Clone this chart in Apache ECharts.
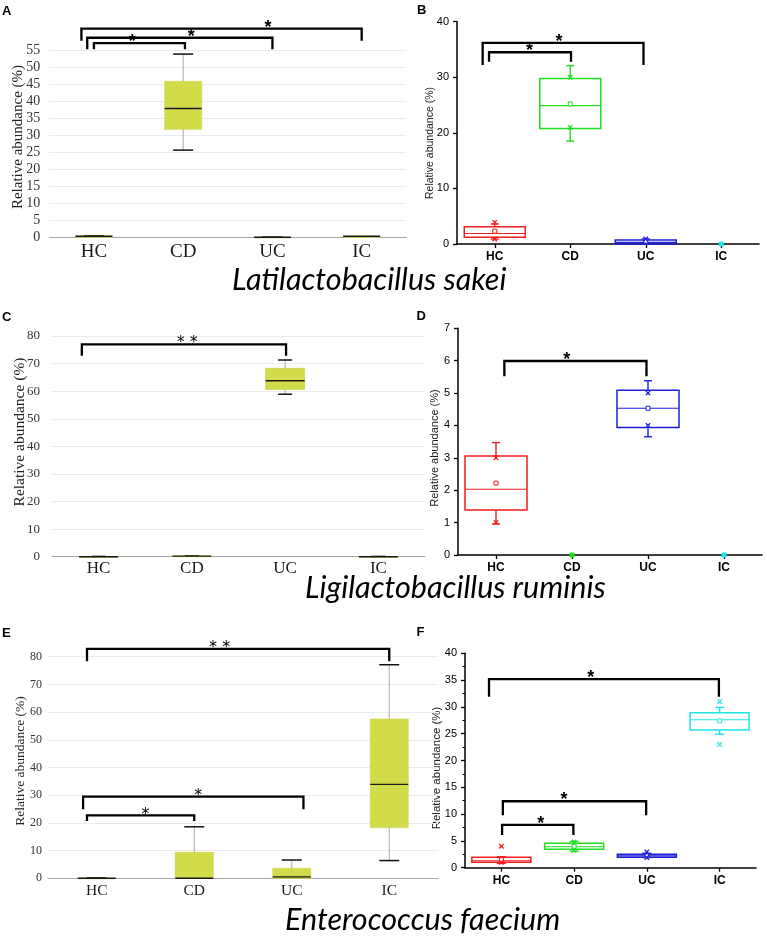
<!DOCTYPE html>
<html><head><meta charset="utf-8">
<script src="https://cdn.jsdelivr.net/npm/echarts@6/dist/echarts.min.js"></script>
<style>html,body{margin:0;padding:0;background:#fff}#c{width:767px;height:940px}</style>
</head><body><div id="c"></div>
<script>
const categories = ['HC','CD','UC','IC'];
// box statistics: [min, Q1, median, Q3, max]
const boxA = [[0,0,0.3,0.35,0.4],[25.6,31.7,37.8,45.8,53.8],[0,0,0,0.05,0.1],[0,0,0.3,0.3,0.3]];
const boxC = [[0,0,0,0.05,0.1],[0,0,0.2,0.25,0.3],[58.9,60.6,63.8,68.3,71.3],[0,0,0,0.05,0.1]];
const boxE = [[0,0,0,0.1,0.2],[0,0,0,9.4,18.6],[0,0,0.5,3.6,6.6],[6.4,18.3,33.9,57.5,77.1]];
const boxB = [[0.9,1.2,1.9,3.1,3.6],[18.5,20.8,24.9,29.8,32.1],[0,0,0.3,0.7,0.9],[0,0,0,0,0]];
const meanB = [2.3,25.2,0.5,0];
const markB = [[3.9,0.9],[30.0,21.0],[0.9],[]];
const boxD = [[0.96,1.39,2.03,3.06,3.47],[0,0,0,0,0],[3.65,3.94,4.53,5.09,5.38],[0,0,0,0,0]];
const meanD = [2.22,0,4.53,0];
const markD = [[3.0,1.0],[],[5.0,4.0],[]];
const boxF = [[0.8,1.0,1.3,1.94,2.05],[3.1,3.43,3.9,4.55,4.9],[1.9,1.94,2.2,2.5,2.7],[24.9,25.7,27.6,28.9,29.9]];
const meanF = [1.5,4.0,2.2,27.4];
const markF = [[4.0,1.0],[4.8,3.2],[2.95,1.9],[31.0,23.0]];
// significance brackets: [x from, x to, top, left leg end, right leg end, label, label x]
const bracketsA = [[0,1.02,57.0,55.2,55.2,'*',0.43],[-0.075,2.0,58.6,55.2,55.2,'*',1.09],[-0.14,3.0,61.3,57.7,57.7,'*',1.95]];
const bracketsB = [[-0.076,1.01,34.5,32.8,32.8,'*',0.46],[-0.16,1.97,36.2,32.2,32.2,'*',0.85]];
const bracketsC = [[-0.18,2.01,77.0,72.8,72.8,'* *',0.95]];
const bracketsD = [[0.11,1.98,5.99,5.52,5.52,'*',0.93]];
const bracketsE = [[-0.1,3.0,82.8,78.4,78.4,'* *',1.26],[-0.14,2.12,29.5,24.9,24.9,'*',1.04],[-0.1,1.0,22.7,20.7,20.7,'*',0.5]];
const bracketsF = [[-0.17,2.99,35.2,31.9,31.9,'*',1.23],[0.02,1.99,12.4,9.8,9.8,'*',0.86],[0.01,0.99,8.0,6.1,6.1,'*',0.54]];
const species = ['Latilactobacillus sakei','Ligilactobacillus ruminis','Enterococcus faecium'];
const yTitle = 'Relative abundance (%)';

const SERIF = '"Liberation Serif","DejaVu Serif",serif';
const SANS = '"Liberation Sans",Arial,sans-serif';
const OCOL = ['#f01e1e','#22dd22','#1f1fd6','#1ee6e6'];

const panels = [
  {kind:'gg', box:boxA, brackets:bracketsA, max:55, interval:5,
   grid:{left:49.3, top:50, width:357, height:187.3}, boxW:37, capW:20, yFont:14, xFont:19, yMargin:9, xMargin:5, starFont:'bold 18px '+SANS},
  {kind:'or', box:boxB, mean:meanB, marks:markB, brackets:bracketsB, max:40, interval:10,
   grid:{left:457, top:21.7, width:302, height:222.3}, boxW:61, capW:8, minor:false, starFont:'bold 18px '+SANS},
  {kind:'gg', box:boxC, brackets:bracketsC, max:80, interval:10,
   grid:{left:52, top:336, width:373, height:220.7}, boxW:39, capW:14, yFont:13, xFont:17, yMargin:12, xMargin:3, starFont:'16px "DejaVu Sans",sans-serif'},
  {kind:'or', box:boxD, mean:meanD, marks:markD, brackets:bracketsD, max:7, interval:1,
   grid:{left:458, top:328.3, width:304, height:226.7}, boxW:62, capW:8, minor:false, starFont:'bold 18px '+SANS},
  {kind:'gg', box:boxE, brackets:bracketsE, max:80, interval:10,
   grid:{left:48, top:656.7, width:390, height:221.6}, boxW:38, capW:20, yFont:12, xFont:15.5, yMargin:6, xMargin:5, starFont:'16px "DejaVu Sans",sans-serif'},
  {kind:'or', box:boxF, mean:meanF, marks:markF, brackets:bracketsF, max:40, interval:5,
   grid:{left:465, top:653.3, width:291, height:214.4}, boxW:59, capW:9, minor:true, starFont:'bold 18px '+SANS}
];

function boxRender(p) {
  return function (params, api) {
    const i = api.value(0);
    const v = [1,2,3,4,5].map(k => api.value(k));
    const x = api.coord([i, 0])[0];
    const y = val => api.coord([i, val])[1];
    const hw = p.boxW / 2, cw = p.capW / 2;
    const ch = [];
    const L = (x1,y1,x2,y2,stroke,lw) => ch.push({type:'line', shape:{x1,y1,x2,y2}, style:{stroke, lineWidth:lw}});
    if (p.kind === 'gg') {
      if (v[4] > v[0]) L(x, y(v[0]), x, y(v[4]), '#a8a8a8', 1);
      if (v[4] > v[3]) L(x-cw, y(v[4]), x+cw, y(v[4]), '#111', 1.5);
      if (v[0] < v[1]) L(x-cw, y(v[0]), x+cw, y(v[0]), '#111', 1.5);
      ch.push({type:'rect', shape:{x:x-hw, y:y(v[3]), width:2*hw, height:Math.max(y(v[1])-y(v[3]),0.8)},
        style:{fill:'#d2dc4b', stroke:'#c8d048', lineWidth:0.6}});
      if (v[3] > 0 || v[2] > 0) L(x-hw, y(v[2]), x+hw, y(v[2]), '#1a1a1a', 1.4);
      else L(x-hw, y(0), x+hw, y(0), '#9a9a9a', 1.2);
    } else {
      const c = OCOL[i];
      const allZero = v.every(t => t === 0);
      if (!allZero) {
        L(x, y(v[3]), x, y(v[4]), c, 1.4);
        L(x, y(v[0]), x, y(v[1]), c, 1.4);
        L(x-cw, y(v[4]), x+cw, y(v[4]), c, 1.4);
        L(x-cw, y(v[0]), x+cw, y(v[0]), c, 1.4);
        ch.push({type:'rect', shape:{x:x-hw, y:y(v[3]), width:2*hw, height:y(v[1])-y(v[3])},
          style:{fill:'none', stroke:c, lineWidth:1.5}});
        L(x-hw, y(v[2]), x+hw, y(v[2]), c, 1.1);
      }
      const m = p.mean[i];
      const ym = y(m);
      ch.push({type:'rect', shape:{x:x-2, y:ym-2, width:4, height:4}, style:{fill:allZero?c:'#fff', stroke:c, lineWidth:1}});
      (p.marks[i] || []).forEach(mv => {
        const yy = y(mv), s = 2.2;
        L(x-s, yy-s, x+s, yy+s, c, 1.3);
        L(x-s, yy+s, x+s, yy-s, c, 1.3);
      });
    }
    return {type:'group', children:ch};
  };
}

function bracketRender(p) {
  return function (params, api) {
    const b = p.brackets[params.dataIndex];
    const bw = api.size([1, 0])[0];
    const xp = xf => { const i = Math.max(0, Math.min(3, Math.round(xf))); return api.coord([i, 0])[0] + (xf - i) * bw; };
    const yp = val => api.coord([0, val])[1];
    const x1 = xp(b[0]), x2 = xp(b[1]), yt = yp(b[2]), y1 = yp(b[3]), y2 = yp(b[4]);
    return {type:'group', children:[
      {type:'polyline', shape:{points:[[x1,y1],[x1,yt],[x2,yt],[x2,y2]]},
       style:{stroke:'#000', lineWidth:2.3, fill:'none', lineJoin:'miter'}},
      {type:'text', style:{x:xp(b[6]), y:yt-1, text:b[5], font:p.starFont, fill:'#000', align:'center', verticalAlign:'middle'}}
    ]};
  };
}

const grids = [], xAxes = [], yAxes = [], series = [];
panels.forEach((p, k) => {
  grids.push(Object.assign({containLabel:false, outerBoundsMode:'none'}, p.grid));
  if (p.kind === 'gg') {
    xAxes.push({gridIndex:k, type:'category', data:categories,
      axisLine:{show:true, onZero:false, lineStyle:{color:'#a6a6a6', width:1.2}}, axisTick:{show:false},
      axisLabel:{fontFamily:SERIF, fontSize:p.xFont, color:'#1a1a1a', margin:p.xMargin}, splitLine:{show:false}});
    yAxes.push({gridIndex:k, type:'value', min:0, max:p.max, interval:p.interval,
      axisLine:{show:false}, axisTick:{show:false},
      splitLine:{show:true, lineStyle:{color:'#ebebeb', width:1}},
      axisLabel:{fontFamily:SERIF, fontSize:p.yFont, color:'#333', margin:p.yMargin}});
  } else {
    xAxes.push({gridIndex:k, type:'category', data:categories,
      axisLine:{show:true, onZero:false, lineStyle:{color:'#000', width:1.5}},
      axisTick:{show:true, alignWithLabel:true, length:4, lineStyle:{color:'#000', width:1.3}},
      axisLabel:{fontFamily:SANS, fontSize:12, fontWeight:'bold', color:'#000', margin:7}, splitLine:{show:false}});
    yAxes.push({gridIndex:k, type:'value', min:0, max:p.max, interval:p.interval,
      axisLine:{show:true, lineStyle:{color:'#000', width:1.5}},
      axisTick:{show:true, length:4, lineStyle:{color:'#000', width:1.3}},
      minorTick:{show:p.minor, splitNumber:2, length:2.5, lineStyle:{color:'#000', width:1}},
      splitLine:{show:false},
      axisLabel:{fontFamily:SANS, fontSize:11, color:'#000', margin:8}});
  }
  series.push({type:'custom', xAxisIndex:k, yAxisIndex:k, clip:false, silent:true,
    renderItem:boxRender(p), encode:{x:0, y:[1,2,3,4,5]},
    data:p.box.map((b, i) => [i].concat(b))});
  series.push({type:'custom', xAxisIndex:k, yAxisIndex:k, clip:false, silent:true, z:5,
    renderItem:bracketRender(p), encode:{x:0, y:1},
    data:p.brackets.map(b => [Math.max(0, Math.min(3, Math.round(b[0]))), b[2]])});
});

const letter = (t, x, y) => ({type:'text', x, y, style:{text:t, font:'bold 13px '+SANS, fill:'#000', align:'left', verticalAlign:'middle'}});
const ytitle = (x, y, font) => ({type:'text', x, y, rotation:Math.PI/2, style:{text:yTitle, font, fill:'#222', align:'center', verticalAlign:'middle'}});
const spec = (t, x, y) => ({type:'text', x, y, style:{text:t, font:'italic 30.5px Lato', fill:'#000', align:'left', verticalAlign:'middle'}});

const option = {
  animation:false,
  grid:grids, xAxis:xAxes, yAxis:yAxes, series,
  graphic:[
    letter('A', 2, 11), letter('B', 417, 10), letter('C', 2, 317), letter('D', 416.5, 316),
    letter('E', 2, 633), letter('F', 416.5, 632.5),
    ytitle(18, 137, '15px '+SERIF), ytitle(430, 143, '10.5px '+SANS),
    ytitle(20, 432, '15.5px '+SERIF), ytitle(435, 448, '11px '+SANS),
    ytitle(20, 761, '13.5px '+SERIF), ytitle(437, 768, '11.5px '+SANS),
    spec(species[0], 232, 280.5), spec(species[1], 305, 588.5), spec(species[2], 285, 920.5)
  ]
};
const chart = echarts.init(document.getElementById('c'));
chart.setOption(option);
</script></body></html>
